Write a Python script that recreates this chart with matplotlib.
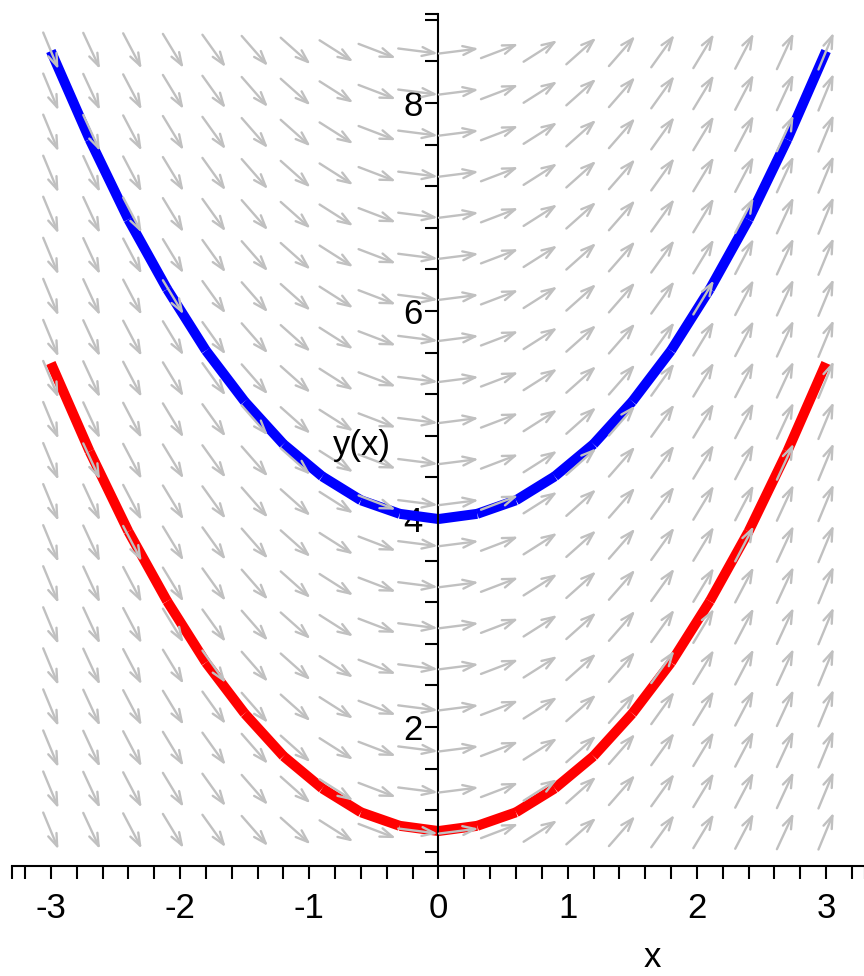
import numpy as np
import matplotlib
matplotlib.use("Agg")
import matplotlib.pyplot as plt
from matplotlib.collections import LineCollection

plt.rcParams['font.family'] = ['Liberation Sans', 'DejaVu Sans']
plt.rcParams['axes.unicode_minus'] = False

curve_x = [-3.0, -2.7, -2.4, -2.1, -1.8, -1.5, -1.2, -0.9, -0.6, -0.3, 0.0,
           0.3, 0.6, 0.9, 1.2, 1.5, 1.8, 2.1, 2.4, 2.7, 3.0]
blue_y = [8.5, 7.65, 6.88, 6.21, 5.62, 5.13, 4.72, 4.41, 4.18, 4.05, 4.0,
          4.05, 4.18, 4.41, 4.72, 5.13, 5.62, 6.21, 6.88, 7.65, 8.5]
red_y = [5.5, 4.65, 3.88, 3.21, 2.62, 2.13, 1.72, 1.41, 1.18, 1.05, 1.0,
         1.05, 1.18, 1.41, 1.72, 2.13, 2.62, 3.21, 3.88, 4.65, 5.5]
curves = [(blue_y, 'blue'), (red_y, 'red')]

# direction field grid (20 x 20), slope dy/dx = x
field_x = np.linspace(-3, 3, 20)
field_y = np.linspace(1, 8.5, 20)

x_major = [-3, -2, -1, 0, 1, 2, 3]
y_major = [2, 4, 6, 8]

xlim = (-3.3, 3.3)
ylim = (0.66, 8.86)

fig = plt.figure(figsize=(8.64, 9.76), dpi=100)
ax = fig.add_axes([0.014, 0.1123, 0.987, 0.8738])
ax.set_xlim(*xlim)
ax.set_ylim(*ylim)

# curves, drawn as separate straight pieces like the original
for ys, col in curves:
    segs = [[(curve_x[i], ys[i]), (curve_x[i + 1], ys[i + 1])]
            for i in range(len(curve_x) - 1)]
    lc = LineCollection(segs, colors=col, linewidths=7.2, capstyle='butt',
                        zorder=2)
    ax.add_collection(lc)

# arrows of the field, fixed length on screen
half = 20.0
inv = ax.transData.inverted()
for xv in field_x:
    for yv in field_y:
        p0 = ax.transData.transform((xv, yv))
        p1 = ax.transData.transform((xv + 1.0, yv + xv))
        d = p1 - p0
        d = d / np.hypot(*d) * half
        tail = inv.transform(p0 - d)
        head = inv.transform(p0 + d)
        ax.annotate('', xy=head, xytext=tail,
                    arrowprops=dict(arrowstyle='->,head_length=0.45,head_width=0.16',
                                    color='#c0c0c0', lw=1.7, shrinkA=0, shrinkB=0,
                                    mutation_scale=20),
                    zorder=3)

# axes like Maple: y axis through x = 0
for s in ['top', 'right']:
    ax.spines[s].set_visible(False)
ax.spines['left'].set_position(('data', 0))
ax.spines['left'].set_linewidth(1.5)
ax.spines['bottom'].set_linewidth(1.5)

xt = [xlim[0]] + list(np.round(np.arange(-3.2, 3.21, 0.2), 1)) + [xlim[1]]
yt = list(np.round(np.arange(0.8, 8.81, 0.4), 1)) + [ylim[1]]
ax.set_xticks(xt)
ax.set_xticklabels([str(int(round(v))) if round(v, 1) in x_major else '' for v in xt])
ax.set_yticks(yt)
ax.set_yticklabels([str(int(round(v))) if round(v, 1) in y_major else '' for v in yt])
ax.tick_params(axis='x', direction='out', length=9.4, width=1.5, pad=9,
               labelsize=25)
ax.tick_params(axis='y', direction='out', length=9.4, width=1.5, pad=2,
               labelsize=25)

ax.text(-0.59, 4.71, 'y(x)', fontsize=25, ha='center', va='center', zorder=4)
fig.text(652 / 864, 2 / 976, 'x', fontsize=25, ha='center', va='bottom')

fig.savefig('out.png', dpi=100)
